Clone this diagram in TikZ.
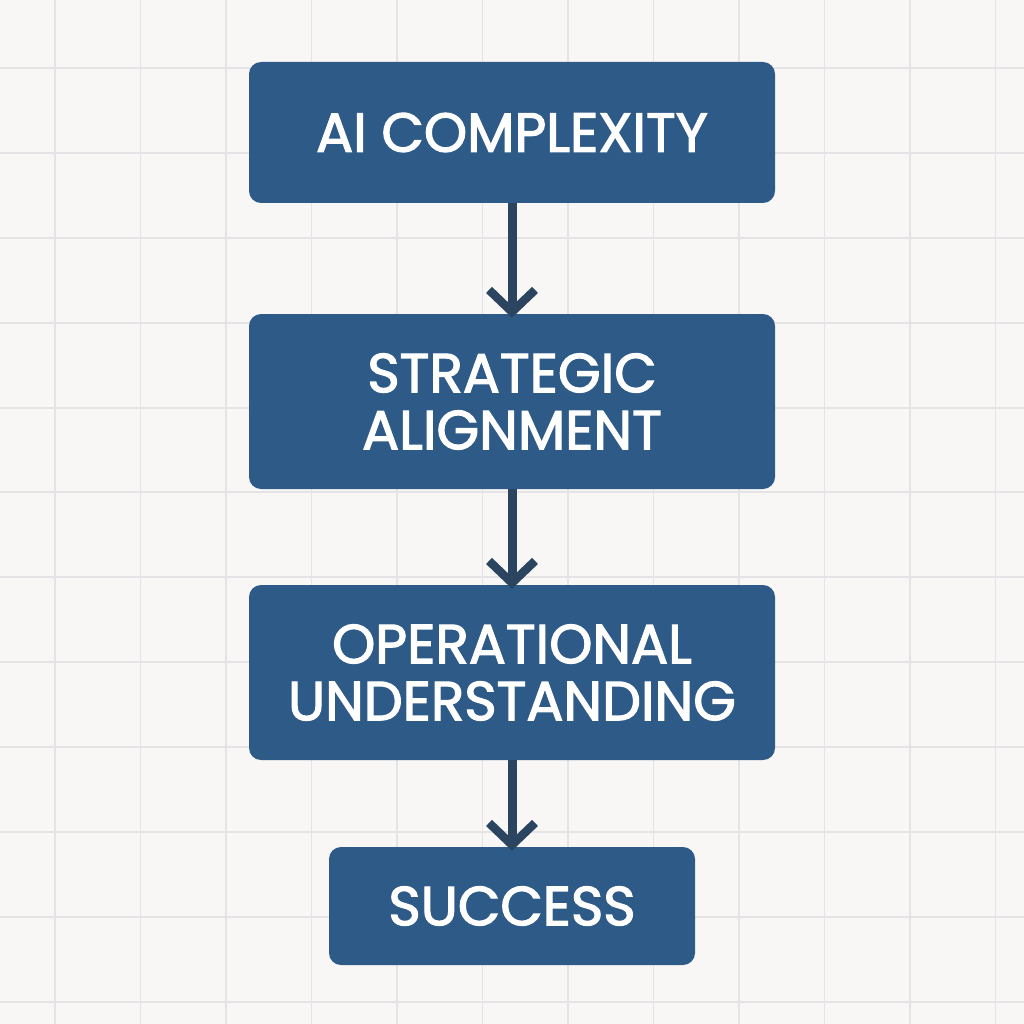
\documentclass[tikz,border=0pt]{standalone}
\usepackage{fontspec}
\setmainfont{Poppins}
\newfontfamily\boxfont[FakeBold=2.2]{Poppins}
\usetikzlibrary{arrows.meta}
\definecolor{boxblue}{HTML}{2E5A87}
\definecolor{arrowc}{HTML}{2B4560}
\definecolor{bg}{HTML}{F8F7F6}
\definecolor{gridc}{HTML}{E4E4E6}
\begin{document}
\begin{tikzpicture}[x=1pt,y=-1pt,
  box/.style={fill=boxblue,rounded corners=12pt,text=white,align=center,
    font=\boxfont\fontsize{55}{57}\selectfont,inner sep=0pt},
  conn/.style={draw=arrowc,line width=9pt,-{Straight Barb[length=22pt,width=46pt,line width=8.5pt]}}]
\useasboundingbox (0,0) rectangle (1024,1024);
\fill[bg] (0,0) rectangle (1024,1024);
\foreach \i in {55,140.5,226,311.5,397,482.5,568,653.5,739,824.5,910,995.5}
  {\draw[gridc,line width=1.2pt] (\i,0) -- (\i,1024);}
\foreach \j in {68,153,238,323,408,492,577,662,747,832,917,1002}
  {\draw[gridc,line width=1.2pt] (0,\j) -- (1024,\j);}
\node[box,minimum width=526pt,minimum height=141pt] (a) at (512,132.5) {AI COMPLEXITY};
\node[box,minimum width=526pt,minimum height=175pt] (b) at (512,401.5) {STRATEGIC\\ALIGNMENT};
\node[box,minimum width=526pt,minimum height=175pt] (c) at (512,672.5) {OPERATIONAL\\UNDERSTANDING};
\node[box,minimum width=366pt,minimum height=118pt] (d) at (512,906) {SUCCESS};
\draw[conn] (a.south) -- ([yshift=-4pt]b.north);
\draw[conn] (b.south) -- ([yshift=-4pt]c.north);
\draw[conn] (c.south) -- ([yshift=-4pt]d.north);
\end{tikzpicture}
\end{document}
